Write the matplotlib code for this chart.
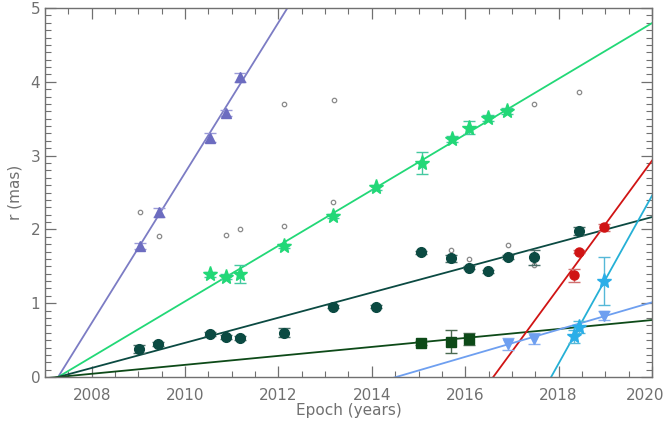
import numpy as np
import matplotlib
matplotlib.use("Agg")
import matplotlib.pyplot as plt
from matplotlib.ticker import MultipleLocator, FuncFormatter

# ---- data ----
# purple triangles
tri_t = [2009.03, 2009.44, 2010.54, 2010.88, 2011.17]
tri_r = [1.78, 2.23, 3.24, 3.58, 4.06]
tri_e = [0.04, 0.06, 0.06, 0.04, 0.06]

# green stars
star_t = [2010.54, 2010.87, 2011.17, 2012.11, 2013.17, 2014.09, 2015.07, 2015.71, 2016.08, 2016.48, 2016.89]
star_r = [1.39, 1.36, 1.40, 1.775, 2.185, 2.57, 2.90, 3.22, 3.38, 3.51, 3.60]
star_e = [0.03, 0.03, 0.12, 0.03, 0.03, 0.03, 0.155, 0.04, 0.085, 0.04, 0.04]

# dark teal circles
dc_t = [2009.02, 2009.43, 2010.54, 2010.88, 2011.17, 2012.11, 2013.17, 2014.08, 2015.06, 2015.70, 2016.08, 2016.48, 2016.91, 2017.48, 2018.44]
dc_r = [0.38, 0.45, 0.58, 0.54, 0.53, 0.60, 0.95, 0.95, 1.69, 1.61, 1.48, 1.43, 1.63, 1.62, 1.98]
dc_e = [0.05, 0.03, 0.03, 0.03, 0.03, 0.06, 0.02, 0.02, 0.02, 0.05, 0.02, 0.02, 0.03, 0.10, 0.05]

# red circles
red_t = [2018.32, 2018.44, 2018.98]
red_r = [1.38, 1.70, 2.03]
red_e = [0.09, 0.02, 0.05]

# dark green squares
sq_t = [2015.06, 2015.70, 2016.08]
sq_r = [0.46, 0.48, 0.52]
sq_e = [0.03, 0.16, 0.08]

# light blue down triangles
lb_t = [2016.91, 2017.48, 2018.98]
lb_r = [0.45, 0.52, 0.83]
lb_e = [0.08, 0.07, 0.06]

# cyan stars
cy_t = [2018.32, 2018.44, 2018.98]
cy_r = [0.55, 0.68, 1.30]
cy_e = [0.09, 0.08, 0.32]

# small open grey circles
gc_t = [2009.03, 2009.44, 2010.88, 2011.17, 2012.11, 2012.11, 2013.17, 2013.18,
        2015.70, 2016.08, 2016.91, 2017.48, 2017.48, 2018.43]
gc_r = [2.23, 1.915, 1.93, 2.0, 2.05, 3.70, 2.37, 3.75,
        1.725, 1.60, 1.79, 1.52, 3.70, 3.86]

# fitted lines: ejection epoch and speed (mas/yr)
fit_t0 = [2007.28, 2007.28, 2007.28, 2007.28, 2016.60, 2017.84, 2014.52]
fit_mu = [1.018, 0.377, 0.1704, 0.0607, 0.862, 1.137, 0.1847]

# ---- colours ----
c_pur = "#7c7cc4"
c_grn = "#22d877"
c_dte = "#0b4a42"
c_dgr = "#0d4a18"
c_red = "#d01414"
c_cya = "#25b0d6"
c_lbl = "#6e9ff0"
line_cols = [c_pur, c_grn, c_dte, c_dgr, c_red, c_cya, c_lbl]

txt = "#707070"
plt.rcParams['font.family'] = ['DejaVu Sans']

fig = plt.figure(figsize=(6.68, 4.23), dpi=100)
ax = fig.add_axes([0.0674, 0.1087, 0.9086, 0.8723])

tt = np.array([2006.0, 2021.0])
for t0, mu, c in zip(fit_t0, fit_mu, line_cols):
    ax.plot(tt, mu * (tt - t0), color=c, lw=1.3, zorder=2)

ax.plot(gc_t, gc_r, 'o', ms=3.2, mfc='none', mec='#8a8a8a', mew=0.9, zorder=3)

def pts(t, r, e, col, ecol, mk, ms):
    ax.errorbar(t, r, yerr=e, fmt=mk, ms=ms, color=col, mec=col,
                ecolor=ecol, elinewidth=1.0, capsize=4, capthick=1.0, zorder=4)

pts(tri_t, tri_r, tri_e, "#6c6cc0", "#9a9ad8", '^', 7)
pts(star_t, star_r, star_e, c_grn, "#45c9a0", '*', 11)
pts(dc_t, dc_r, dc_e, c_dte, "#4a6e68", 'o', 7)
pts(red_t, red_r, red_e, c_red, "#d07070", 'o', 6.5)
pts(sq_t, sq_r, sq_e, c_dgr, "#4a6a50", 's', 6.5)
pts(lb_t, lb_r, lb_e, c_lbl, "#8ab0f0", 'v', 7)
pts(cy_t, cy_r, cy_e, "#2aaee8", "#55b8d8", '*', 11)

ax.set_xlim(2007, 2020)
ax.set_ylim(0, 5)
ax.xaxis.set_major_locator(MultipleLocator(2))
ax.xaxis.set_minor_locator(MultipleLocator(0.5))
# last year label is drawn by hand so it stays inside the picture
ax.xaxis.set_major_formatter(FuncFormatter(lambda v, p: "" if v >= 2020 else "%d" % v))
ax.yaxis.set_major_locator(MultipleLocator(1))
ax.yaxis.set_minor_locator(MultipleLocator(0.1))
ax.tick_params(which='both', direction='in', top=True, right=True,
               color='#707070', labelcolor=txt, labelsize=11)
ax.tick_params(which='major', length=8, width=0.9)
ax.tick_params(which='minor', length=4, width=0.8)
ax.tick_params(axis='x', pad=8)
for s in ax.spines.values():
    s.set_color('#707070')
    s.set_linewidth(1.0)

ax.annotate("2020", xy=(2020, 0), xycoords='data', xytext=(-5, -8),
            textcoords='offset points', ha='center', va='top',
            color=txt, fontsize=11, annotation_clip=False)

ax.set_xlabel("Epoch (years)", color=txt, fontsize=11, labelpad=0)
ax.set_ylabel("r (mas)", color=txt, fontsize=11, labelpad=6)

fig.savefig("out.png", dpi=100)
